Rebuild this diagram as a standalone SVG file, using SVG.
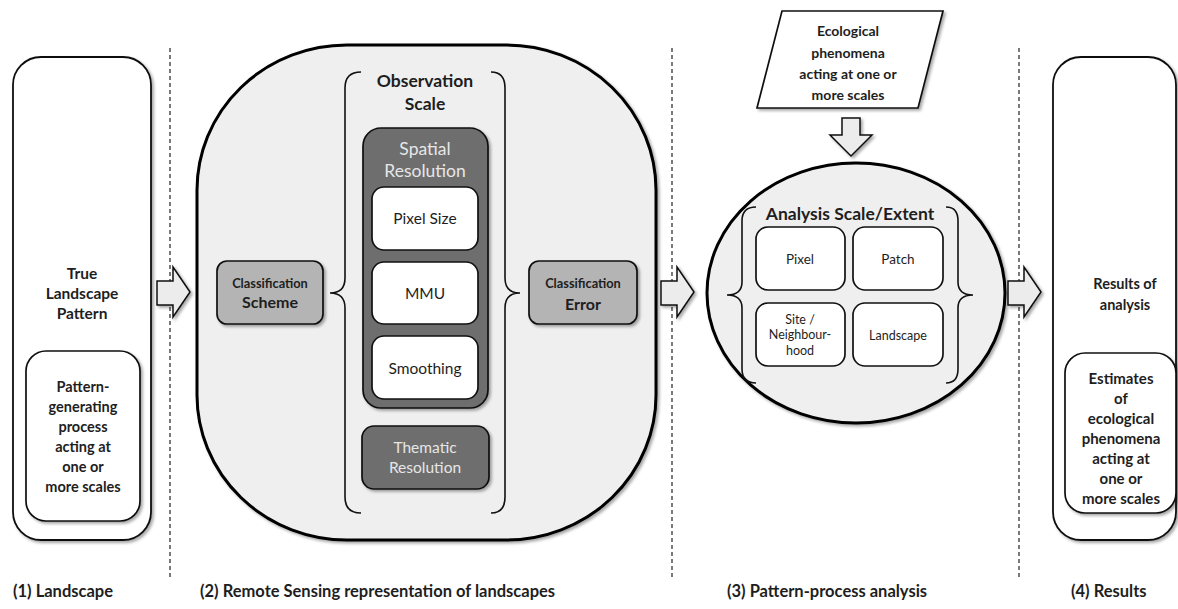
<svg xmlns="http://www.w3.org/2000/svg" width="1178" height="609" viewBox="0 0 1178 609">
<defs>
<filter id="sh" x="-10%" y="-10%" width="125%" height="125%">
<feDropShadow dx="2" dy="2" stdDeviation="1.5" flood-color="#000" flood-opacity="0.35"/>
</filter>
<style>
text{font-family:Lato,"Open Sans","Liberation Sans",sans-serif;fill:#1e1e1e;text-anchor:middle;dominant-baseline:central}
.b{font-weight:700}
.lt{fill:#e6e6e6}
.box{fill:#fff;stroke:#111;stroke-width:1.7}
.dk{fill:#6e6e6e;stroke:#111;stroke-width:1.7}
.md{fill:#b4b4b4;stroke:#111;stroke-width:1.7}
.big{fill:#efefef;stroke:#000;stroke-width:3}
.arr{fill:#ececec;stroke:#111;stroke-width:1.5}
.brace{fill:none;stroke:#111;stroke-width:1.6}
.dash{stroke:#333;stroke-width:1.3;stroke-dasharray:4 3}
.lbl{font-weight:700;font-size:16.5px;text-anchor:start;dominant-baseline:auto}
</style>
</defs>
<rect width="1178" height="609" fill="#fff"/>

<g id="separators">
<line class="dash" x1="170" y1="48" x2="170" y2="578"/>
<line class="dash" x1="672" y1="48" x2="672" y2="578"/>
<line class="dash" x1="1019" y1="48" x2="1019" y2="578"/>
</g>

<g id="landscape">
<rect x="13" y="57" width="138" height="483" rx="28" fill="#fff" stroke="#111" stroke-width="1.8" filter="url(#sh)"/>
<text class="b" font-size="15.5" x="82" y="273">True</text>
<text class="b" font-size="15.5" x="82" y="293">Landscape</text>
<text class="b" font-size="15.5" x="82" y="313">Pattern</text>
</g>
<g id="pattern-process">
<rect class="box" x="26" y="351" width="114" height="170" rx="20" filter="url(#sh)"/>
<text class="b" font-size="14.5" x="83" y="386">Pattern-</text>
<text class="b" font-size="14.5" x="83" y="406">generating</text>
<text class="b" font-size="14.5" x="83" y="426">process</text>
<text class="b" font-size="14.5" x="83" y="446">acting at</text>
<text class="b" font-size="14.5" x="83" y="466">one or</text>
<text class="b" font-size="14.5" x="83" y="486">more scales</text>
</g>

<g id="remote-sensing">
<rect class="big" x="197" y="45" width="459" height="495" rx="150" ry="145" filter="url(#sh)"/>
</g>
<g id="observation-scale">
<path class="brace" d="M361,72 Q345,72 345,88 L345,278 Q345,293 330,293 Q345,293 345,308 L345,497 Q345,513 361,513"/>
<path class="brace" d="M491,72 Q505,72 505,88 L505,278 Q505,293 520,293 Q505,293 505,308 L505,497 Q505,513 491,513"/>
<text class="b" font-size="17.5" x="425" y="80">Observation</text>
<text class="b" font-size="17.5" x="425" y="103">Scale</text>
</g>
<g id="spatial-resolution">
<rect class="dk" x="363" y="128" width="125" height="280" rx="18" filter="url(#sh)"/>
<text class="lt" font-size="17.5" x="425" y="148">Spatial</text>
<text class="lt" font-size="17.5" x="425" y="170">Resolution</text>
</g>
<g id="pixel-size">
<rect class="box" x="372" y="187" width="106" height="63" rx="12"/>
<text font-size="15.5" x="425" y="218">Pixel Size</text>
</g>
<g id="mmu">
<rect class="box" x="372" y="262" width="106" height="62" rx="12"/>
<text font-size="15.5" x="425" y="293">MMU</text>
</g>
<g id="smoothing">
<rect class="box" x="372" y="336" width="106" height="63" rx="12"/>
<text font-size="15.5" x="425" y="368">Smoothing</text>
</g>
<g id="thematic-resolution">
<rect class="dk" x="362" y="426" width="127" height="63" rx="12" filter="url(#sh)"/>
<text class="lt" font-size="15.5" x="425" y="447">Thematic</text>
<text class="lt" font-size="15.5" x="425" y="467">Resolution</text>
</g>
<g id="classification-scheme">
<rect class="md" x="217" y="261" width="106" height="63" rx="10" filter="url(#sh)"/>
<text class="b" font-size="12.8" x="270" y="283">Classification</text>
<text class="b" font-size="16" x="270" y="301">Scheme</text>
</g>
<g id="classification-error">
<rect class="md" x="529" y="261" width="108" height="63" rx="10" filter="url(#sh)"/>
<text class="b" font-size="12.8" x="583" y="283">Classification</text>
<text class="b" font-size="16" x="583" y="303">Error</text>
</g>

<g id="ecological-phenomena">
<polygon class="box" points="782,11 943,11 918,108 757,108" filter="url(#sh)"/>
<text class="b" font-size="14" x="848" y="30">Ecological</text>
<text class="b" font-size="14" x="848" y="52">phenomena</text>
<text class="b" font-size="14" x="848" y="73">acting at one or</text>
<text class="b" font-size="14" x="848" y="94">more scales</text>
</g>

<g id="pattern-process-analysis">
<ellipse class="big" cx="856" cy="293" rx="149" ry="130" filter="url(#sh)"/>
</g>
<g id="analysis-scale">
<path class="brace" d="M756,207 Q742,207 742,221 L742,282 Q742,295 727,295 Q742,295 742,308 L742,369 Q742,383 756,383"/>
<path class="brace" d="M946,207 Q958,207 958,221 L958,282 Q958,295 973,295 Q958,295 958,308 L958,369 Q958,383 946,383"/>
<text class="b" font-size="17.5" x="850" y="213">Analysis Scale/Extent</text>
</g>
<g id="pixel">
<rect class="box" x="756" y="227" width="89" height="63" rx="12"/>
<text font-size="13.5" x="800" y="259">Pixel</text>
</g>
<g id="patch">
<rect class="box" x="853" y="227" width="90" height="63" rx="12"/>
<text font-size="13.5" x="898" y="259">Patch</text>
</g>
<g id="site">
<rect class="box" x="756" y="303" width="89" height="63" rx="12"/>
<text font-size="12.5" x="800" y="319">Site /</text>
<text font-size="12.5" x="800" y="334">Neighbour-</text>
<text font-size="12.5" x="800" y="350">hood</text>
</g>
<g id="landscape-scale">
<rect class="box" x="853" y="303" width="90" height="63" rx="12"/>
<text font-size="12.5" x="898" y="335">Landscape</text>
</g>

<g id="results">
<rect x="1053" y="57" width="123" height="483" rx="28" fill="#fff" stroke="#111" stroke-width="1.8" filter="url(#sh)"/>
<text class="b" font-size="14.5" x="1125" y="283">Results of</text>
<text class="b" font-size="14.5" x="1125" y="304">analysis</text>
</g>
<g id="estimates">
<rect class="box" x="1065" y="353" width="111" height="160" rx="20" filter="url(#sh)"/>
<text class="b" font-size="15" x="1121" y="378">Estimates</text>
<text class="b" font-size="15" x="1121" y="398">of</text>
<text class="b" font-size="15" x="1121" y="418">ecological</text>
<text class="b" font-size="15" x="1121" y="438">phenomena</text>
<text class="b" font-size="15" x="1121" y="458">acting at</text>
<text class="b" font-size="15" x="1121" y="478">one or</text>
<text class="b" font-size="15" x="1121" y="498">more scales</text>
</g>

<g id="connectors">
<polygon class="arr" points="157,281 173,281 173,267 190,292 173,317 173,305 157,305" filter="url(#sh)"/>
<polygon class="arr" points="661,281 677,281 677,267 694,292 677,317 677,305 661,305" filter="url(#sh)"/>
<polygon class="arr" points="1008,281 1024,281 1024,267 1041,292 1024,317 1024,305 1008,305" filter="url(#sh)"/>
<polygon class="arr" points="842,118 860,118 860,135 872,135 851,156 830,135 842,135" filter="url(#sh)"/>
</g>

<g id="labels">
<text class="lbl" x="13" y="597">(1) Landscape</text>
<text class="lbl" x="200" y="597">(2) Remote Sensing representation of landscapes</text>
<text class="lbl" x="727" y="597">(3) Pattern-process analysis</text>
<text class="lbl" x="1071" y="597">(4) Results</text>
</g>
</svg>
